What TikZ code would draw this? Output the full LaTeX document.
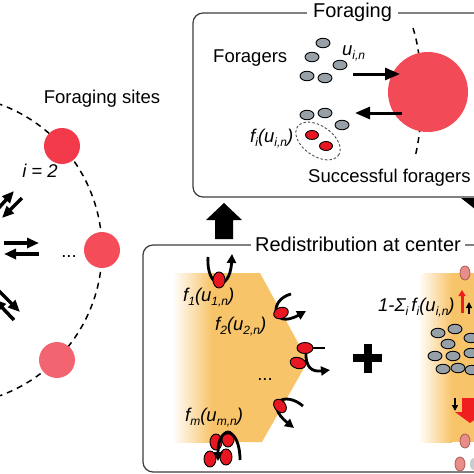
\documentclass[tikz,border=0pt]{standalone}
\usepackage{fontspec}
\setmainfont{Liberation Sans}
\usetikzlibrary{arrows.meta,shapes.geometric}
\definecolor{orng}{RGB}{248,196,106}
\definecolor{greyc}{RGB}{150,160,166}
\definecolor{redc}{RGB}{232,22,32}
\definecolor{siteA}{RGB}{242,58,74}
\definecolor{siteB}{RGB}{244,76,88}
\definecolor{siteC}{RGB}{242,100,112}
\definecolor{siteF}{RGB}{243,74,88}
\definecolor{pinkc}{RGB}{232,142,138}
\definecolor{pinkd}{RGB}{168,92,80}
\definecolor{frm}{RGB}{60,60,60}
\definecolor{redarr}{RGB}{240,30,30}
\newcommand{\sbs}[1]{\raisebox{-0.45ex}{\fontsize{12}{12}\selectfont #1}}
\begin{document}
\begin{tikzpicture}[x=1pt,y=-1pt,
  lbl/.style={font=\fontsize{18.5}{20}\selectfont, inner sep=0pt},
  mlbl/.style={font=\fontsize{18.5}{20}\selectfont\itshape, inner sep=0pt, anchor=base west},
  ttl/.style={font=\fontsize{20}{22}\selectfont, fill=white, inner xsep=6pt, inner ysep=1pt, anchor=base},
  gr/.style={ellipse, draw=black, line width=0.9pt, fill=greyc, minimum width=14pt, minimum height=9.5pt, inner sep=0pt},
  rd/.style={ellipse, draw=black, line width=0.9pt, fill=redc, minimum width=15pt, minimum height=11pt, inner sep=0pt},
  rdv/.style={rd, minimum width=12pt, minimum height=16pt},
  pk/.style={ellipse, draw=pinkd, line width=0.8pt, fill=pinkc, minimum width=10pt, minimum height=14pt, inner sep=0pt},
  site/.style={circle, inner sep=0pt, minimum size=36pt},
  frame/.style={draw=frm, line width=1.2pt, rounded corners=10pt},
  dsh/.style={draw=black, line width=1.5pt, dash pattern=on 6pt off 5pt},
  sarr/.style={line width=3.5pt, -{Triangle[length=12pt,width=10pt]}},
  farr/.style={line width=3pt, -{Triangle[length=15pt,width=12pt]}},
  carr/.style={line width=2.8pt, -{Triangle[length=9pt,width=9pt]}},
  tarr/.style={line width=2.5pt, -{Triangle[length=6pt,width=6pt]}},
]
\useasboundingbox (0,0) rectangle (474,474);
\clip (0,0) rectangle (474,474);

% ---------- left: foraging sites ----------
\coordinate (C) at (-53,250);
\draw[dsh] (C) circle [radius=155pt];
\node[site, fill=siteA] (s1) at (62,146) {};
\node[site, fill=siteB] (s2) at (102,250) {};
\node[site, fill=siteC] (s3) at (57,360) {};
\node[lbl, anchor=base] (fs) at (102,103) {Foraging sites};
\node[lbl, font=\fontsize{18.5}{20}\selectfont\itshape, anchor=base] (i2) at (40,177) {i = 2};
\node[lbl, anchor=base] (dots1) at (69,257) {...};

\coordinate (la1) at (-4,211); \coordinate (la2) at (14,191);
\coordinate (la3) at (22,198); \coordinate (la4) at (2,218);
\draw[sarr] (la1) -- (la2);
\draw[sarr] (la3) -- (la4);
\coordinate (lb1) at (4,243); \coordinate (lb2) at (39,243);
\coordinate (lb3) at (39,254); \coordinate (lb4) at (4,254);
\draw[sarr] (lb1) -- (lb2);
\draw[sarr] (lb3) -- (lb4);
\coordinate (lc1) at (-2,290); \coordinate (lc2) at (20,312);
\coordinate (lc3) at (14,320); \coordinate (lc4) at (-6,299);
\draw[sarr] (lc1) -- (lc2);
\draw[sarr] (lc3) -- (lc4);

% ---------- top: foraging box ----------
\draw[frame] (193,13) rectangle (495,197);
\node[ttl] (ftitle) at (352.5,17) {Foraging};
\draw[dsh] (413,28) .. controls (424,62) and (424,122) .. (415,157);
\node[site, fill=siteF, minimum size=80pt] (fsite) at (428,92) {};
\node[lbl, anchor=base west] (fgr) at (213,62) {Foragers};
\node[gr] (g1) at (323,43) {};
\node[gr] (g2) at (312,57) {};
\node[gr] (g3) at (340,65) {};
\node[gr] (g4) at (307,76) {};
\node[gr] (g5) at (325,78) {};
\node[gr] (g6) at (307,115) {};
\node[gr] (g7) at (325,113) {};
\node[gr] (g8) at (342,125) {};
\node[ellipse, draw=black!70, line width=0.9pt, dash pattern=on 2.5pt off 2pt, minimum width=50pt, minimum height=30pt, inner sep=0pt, rotate=-35] (grp) at (318,141) {};
\node[rd, minimum width=13pt, minimum height=9pt] (r1) at (312,135) {};
\node[rd, minimum width=13pt, minimum height=9pt] (r2) at (326,146) {};
\node[mlbl] (ulab) at (342,55) {u\sbs{i,n}};
\node[mlbl] (flab) at (250,142) {f\sbs{i}(u\sbs{i,n})};
\node[lbl, anchor=base west] (succ) at (308,182) {Successful foragers};
\coordinate (fa1) at (353,74); \coordinate (fa2) at (400,74);
\coordinate (fb1) at (402,113); \coordinate (fb2) at (355,113);
\draw[farr] (fa1) -- (fa2);
\draw[farr] (fb1) -- (fb2);

% ---------- bottom: redistribution box ----------
\draw[frame] (143,245) rectangle (495,472);
\node[ttl, inner xsep=4pt] (rtitle) at (358,251) {Redistribution at center};

\fill[orng] (173,273) -- (260,273) -- (308,361) -- (262,442) -- (173,442) -- cycle;
\shade[left color=white, right color=orng] (172,273) rectangle (212,442);
\fill[orng] (418,273) rectangle (480,442);
\shade[left color=white, right color=orng] (418,273) rectangle (452,442);

% red foragers returning to center
\draw[carr] (208,257) .. controls (206,289) and (230,293) .. (232,254);
\node[rdv] (e1) at (219,280) {};
\draw[carr] (291,294) .. controls (268,300) and (272,330) .. (306,311);
\node[rd, rotate=20] (e2) at (281,313) {};
\coordinate (e3r) at (325,348);
\draw[line width=2.8pt] (305,348) -- (e3r);
\draw[carr] (306,350) .. controls (305,368) and (312,372) .. (330,370);
\node[rd, minimum width=16pt] (e3) at (305,348) {};
\node[rd, minimum width=16pt, rotate=-15] (e4) at (298,363) {};
\draw[carr] (303,406) .. controls (284,390) and (264,404) .. (294,428);
\node[rd, rotate=-50] (e5) at (280,406) {};
\node[rdv] (e6) at (216,442) {};
\node[rdv] (e7) at (228,439) {};
\node[rdv] (e8) at (210,459) {};
\node[rdv] (e9) at (226,457) {};
\draw[carr] (240,460) .. controls (240,426) and (218,424) .. (218,461);

\node[mlbl] (f1) at (183,301) {f\sbs{1}(u\sbs{1,n})};
\node[mlbl] (f2) at (215,330) {f\sbs{2}(u\sbs{2,n})};
\node[lbl, anchor=base] (dots2) at (265,380) {...};
\node[mlbl] (fm) at (185,421) {f\sbs{m}(u\sbs{m,n})};

% plus
\draw[line width=8pt] (353,358) -- (382,358);
\draw[line width=8pt] (367.5,344) -- (367.5,373);

% right: staying at center
\node[mlbl] (fst) at (378,311) {1-Σ\sbs{i}\,f\sbs{i}(u\sbs{i,n})};
\node[gr] (h1) at (438,333) {};
\node[gr] (h2) at (455,329) {};
\node[gr] (h3) at (471,338) {};
\node[gr] (h4) at (448,344) {};
\node[gr] (h5) at (435,356) {};
\node[gr] (h6) at (453,356) {};
\node[gr] (h7) at (471,353) {};
\node[gr] (h8) at (443,369) {};
\node[gr] (h9) at (458,368) {};
\node[gr] (h10) at (472,370) {};
\node[pk] (p1) at (465,273) {};
\node[pk] (p2) at (465,441) {};
\node[pk] (p3) at (460,464) {};
\node[ellipse, fill=black!20, minimum width=6pt, minimum height=12pt, inner sep=0pt] (p4) at (473,464) {};

\coordinate (ra1) at (462,313); \coordinate (ra2) at (462,290);
\draw[redarr, line width=3pt, -{Triangle[length=6pt,width=7pt]}] (ra1) -- (ra2);
\coordinate (ba1) at (469,314); \coordinate (ba2) at (469,302);
\draw[tarr] (ba1) -- (ba2);
\coordinate (bb1) at (455,398); \coordinate (bb2) at (455,411);
\draw[tarr] (bb1) -- (bb2);
\fill[redarr] (462,398) -- (478,398) -- (478,412) -- (485,412) -- (470,423) -- (455,412) -- (462,412) -- cycle;

% block arrows between boxes
\fill[black] (215,239) -- (215,220) -- (206,220) -- (224,203) -- (242,220) -- (233,220) -- (233,239) -- cycle;
\fill[black] (461,198) -- (499,198) -- (480,213) -- cycle;
\end{tikzpicture}
\end{document}
